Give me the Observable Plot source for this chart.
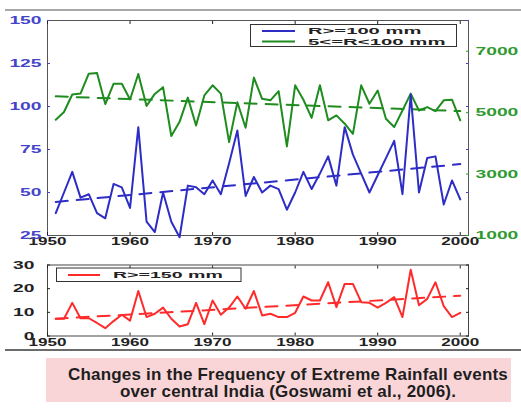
<!DOCTYPE html>
<html>
<head>
<meta charset="utf-8">
<script src="https://cdn.jsdelivr.net/npm/d3@7"></script>
<script src="https://cdn.jsdelivr.net/npm/@observablehq/plot@0.6"></script>
<style>
  body { margin: 0; background: #fff; }
  #wrap { position: relative; width: 521px; height: 408px; overflow: hidden; background: #fff; font-family: Arial, "Liberation Sans", sans-serif; }
  #top, #bot { position: absolute; left: 0; }
  #top { top: 0; }
  #bot { top: 250px; }
  .hr { position: absolute; left: 5px; width: 516px; }
  #hr1 { top: 8.5px; height: 2px; background: #a8a8a8; }
  #hr2 { top: 348.5px; height: 2px; background: #6a6a6a; }
  #caption { position: absolute; left: 46px; top: 358px; width: 465px; height: 44px; background: #f9d5d8;
    text-align: center; font-weight: bold; font-size: 17px; line-height: 17.3px; color: #1e1e1e; padding-top: 8px; padding-left: 19px; box-sizing: border-box; letter-spacing: 0.2px; white-space: nowrap; }
</style>
</head>
<body>
<div id="wrap">
  <div class="hr" id="hr1"></div>
  <div id="top"></div>
  <div id="bot"></div>
  <div class="hr" id="hr2"></div>
  <div id="caption">Changes in the Frequency of Extreme Rainfall events<br>over central India (Goswami et al., 2006).</div>
</div>
<script>
// ---------------- data ----------------
const years = [1951,1952,1953,1954,1955,1956,1957,1958,1959,1960,
               1961,1962,1963,1964,1965,1966,1967,1968,1969,1970,
               1971,1972,1973,1974,1975,1976,1977,1978,1979,1980,
               1981,1982,1983,1984,1985,1986,1987,1988,1989,1990,
               1991,1992,1993,1994,1995,1996,1997,1998,1999,2000];
// R >= 100 mm (left axis)
const heavy = [38,50,62,47,49,38,35,55,53,41,
               88,33,27,50,33,24,54,53,49,57,
               49,67,86,48,59,50,54,52,40,50,
               62,52,61,71,54,88,72,61,50,60,
               70,80,49,107,50,70,71,43,57,46];
// 5 <= R < 100 mm (right axis)
const moderate = [4770,5020,5590,5620,6270,6290,5280,5940,5940,5430,
                  6260,5220,5610,5830,4240,4700,5490,4580,5560,5890,
                  5620,4040,5340,4510,6140,5450,5400,5700,3900,5890,
                  5420,4830,5890,4750,4910,4640,4310,5890,5290,5720,
                  4800,4530,5070,5620,5070,5180,5050,5400,5420,4750];
// R >= 150 mm (bottom panel)
const extreme = [7.3,7.3,14,7.5,7.5,5.5,3.3,6.3,9,6.5,
                 19,8,9.4,12,7.3,4,5,14,5,15,
                 9,12,16.7,11.5,19,8.7,9.4,8,8,9.8,
                 16.7,15,15,22.7,12.2,22,22,14.3,14,12,
                 14,16.4,8,28,13,15.7,22.7,12.6,8,9.8];
// linear trends (end points)
const trendYears = [1951, 2000];
const heavyTrend = [44.5, 66.5];
const moderateTrend = [5530, 5050];
const extremeTrend = [7.3, 17];
// tick values
const xTicks = [1950,1960,1970,1980,1990,2000];
const leftTicks = [25,50,75,100,125,150];
const rightTicks = [1000,3000,5000,7000];
const bottomTicks = [0,10,20,30];
const labels = ["R>=100 mm", "5<=R<100 mm", "R>=150 mm"];

// ---------------- helpers ----------------
const blue = "#2d2dc6", green = "#1f8c1f", red = "#ff2b2b";
const rightDomain = [1000, 8000], leftDomain = [25, 150];
const toLeft = c => leftDomain[0] + (c - rightDomain[0]) * (leftDomain[1] - leftDomain[0]) / (rightDomain[1] - rightDomain[0]);
const fromLeft = v => rightDomain[0] + (v - leftDomain[0]) * (rightDomain[1] - rightDomain[0]) / (leftDomain[1] - leftDomain[0]);

const topData = years.map((y, i) => ({year: y, heavy: heavy[i], moderate: toLeft(moderate[i])}));
const topTrend = trendYears.map((y, i) => ({year: y, heavy: heavyTrend[i], moderate: toLeft(moderateTrend[i])}));
const botData = years.map((y, i) => ({year: y, v: extreme[i]}));
const botTrend = trendYears.map((y, i) => ({year: y, v: extremeTrend[i]}));

const dash = "12,9";
const style = {fontFamily: "Arial, 'Liberation Sans', sans-serif", fontSize: "11px", fontWeight: "bold", background: "transparent", overflow: "visible"};

function stretch(svg, aria, perChar) {
  d3.select(svg).selectAll(`g[aria-label="${aria}"] text`).each(function() {
    const t = this.textContent;
    if (t) {
      this.setAttribute("textLength", t.length * perChar);
      this.setAttribute("lengthAdjust", "spacingAndGlyphs");
    }
  });
}

function legendRow(g, x1, x2, tx, y, color, text, perChar) {
  g.append("line").attr("x1", x1).attr("x2", x2).attr("y1", y).attr("y2", y).attr("stroke", color).attr("stroke-width", 2);
  g.append("text").attr("x", tx).attr("y", y).attr("dy", "0.35em").attr("fill", "#222").attr("text-anchor", "start")
    .attr("textLength", text.length * perChar).attr("lengthAdjust", "spacingAndGlyphs").text(text);
}

// ---------------- top panel ----------------
const topPlot = Plot.plot({
  width: 521, height: 250,
  marginLeft: 47, marginRight: 53, marginTop: 20, marginBottom: 15,
  x: {domain: [1950, 2001]},
  y: {domain: leftDomain},
  style,
  marks: [
    Plot.frame({stroke: "#555"}),
    Plot.line(topData, {x: "year", y: "moderate", stroke: green, strokeWidth: 2}),
    Plot.line(topTrend, {x: "year", y: "moderate", stroke: green, strokeWidth: 2, strokeDasharray: dash}),
    Plot.line(topData, {x: "year", y: "heavy", stroke: blue, strokeWidth: 2}),
    Plot.line(topTrend, {x: "year", y: "heavy", stroke: blue, strokeWidth: 2, strokeDasharray: dash}),
    Plot.axisX({ticks: xTicks, tickFormat: "d", tickSize: -3, tickPadding: 5, label: null, color: "#222"}),
    Plot.axisX({anchor: "top", ticks: xTicks, tickSize: -3, tickFormat: () => "", label: null, color: "#222"}),
    Plot.axisY({anchor: "left", ticks: leftTicks, tickSize: -3, tickPadding: 9, line: true, label: null, color: "#4545c8"}),
    Plot.axisY({anchor: "right", ticks: leftTicks, tickSize: -3, tickFormat: () => "", label: null, color: "#4545c8"}),
    Plot.axisY({anchor: "right", ticks: rightTicks.map(toLeft), tickFormat: d => String(Math.round(fromLeft(d))), tickSize: -3, tickPadding: 10, line: true, label: null, color: "#2f9a2f"})
  ]
});
stretch(topPlot, "x-axis tick label", 9.5);
stretch(topPlot, "y-axis tick label", 10.7);
{
  const g = d3.select(topPlot).append("g").attr("font-family", "Arial, sans-serif").attr("font-weight", "bold").attr("font-size", 9);
  g.append("rect").attr("x", 250.5).attr("y", 24.5).attr("width", 206).attr("height", 22).attr("fill", "#fff").attr("stroke", "#333");
  legendRow(g, 262, 295, 308, 31, blue, labels[0], 12.6);
  legendRow(g, 262, 295, 308, 41.5, green, labels[1], 12.5);
}
document.getElementById("top").appendChild(topPlot);

// ---------------- bottom panel ----------------
const botPlot = Plot.plot({
  width: 521, height: 100,
  marginLeft: 47, marginRight: 53, marginTop: 14.5, marginBottom: 14.5,
  x: {domain: [1950, 2001]},
  y: {domain: [0, 30]},
  style,
  marks: [
    Plot.frame({stroke: "#444"}),
    Plot.line(botData, {x: "year", y: "v", stroke: red, strokeWidth: 2}),
    Plot.line(botTrend, {x: "year", y: "v", stroke: red, strokeWidth: 2, strokeDasharray: dash}),
    Plot.axisX({ticks: xTicks, tickFormat: "d", tickSize: -3, tickPadding: 5, label: null, color: "#222"}),
    Plot.axisX({anchor: "top", ticks: xTicks, tickSize: -3, tickFormat: () => "", label: null, color: "#222"}),
    Plot.axisY({anchor: "left", ticks: bottomTicks, tickSize: -3, tickPadding: 16, label: null, color: "#222"}),
    Plot.axisY({anchor: "right", ticks: bottomTicks, tickSize: -3, tickFormat: () => "", label: null, color: "#222"})
  ]
});
stretch(botPlot, "x-axis tick label", 9.5);
stretch(botPlot, "y-axis tick label", 10.7);
{
  const g = d3.select(botPlot).append("g").attr("font-family", "Arial, sans-serif").attr("font-weight", "bold").attr("font-size", 9);
  g.append("rect").attr("x", 56.5).attr("y", 18).attr("width", 184.5).attr("height", 13.5).attr("fill", "#fff").attr("stroke", "#333");
  legendRow(g, 68, 100, 113, 25, red, labels[2], 12.2);
}
document.getElementById("bot").appendChild(botPlot);
</script>
</body>
</html>
